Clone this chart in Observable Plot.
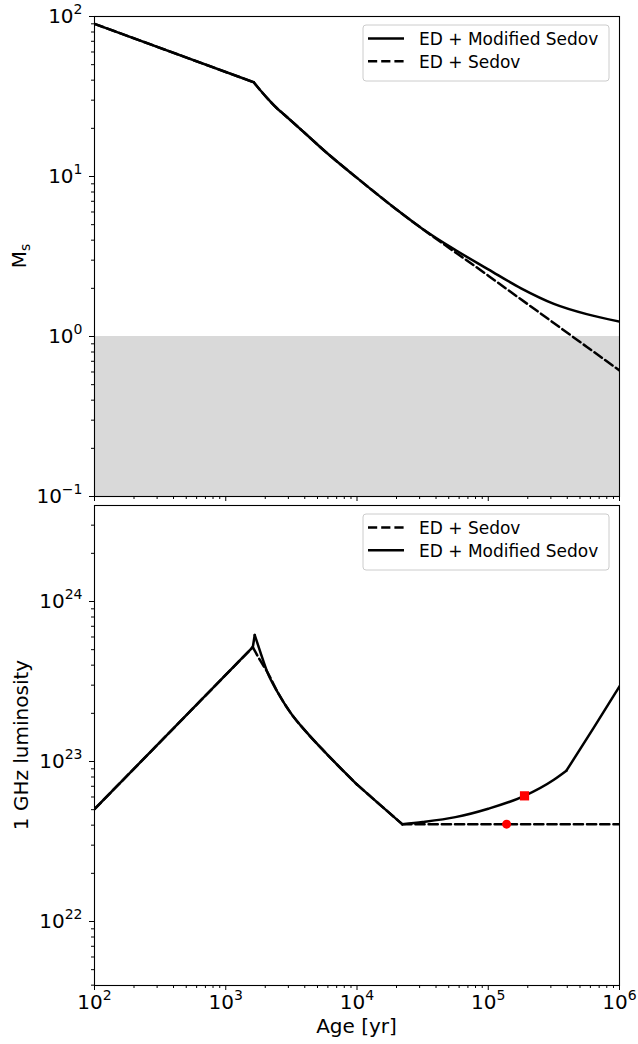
<!DOCTYPE html>
<html><head><meta charset="utf-8">
<script src="https://cdn.jsdelivr.net/npm/d3@7"></script>
<script src="https://cdn.jsdelivr.net/npm/@observablehq/plot@0.6"></script>
<style>
body{margin:0;background:#fff;font-family:"DejaVu Sans",sans-serif;}
#wrap{width:638px;height:1044px;overflow:hidden;}
#wrap svg{display:block;}
</style></head><body><div id="wrap"></div>
<script>
// ---------- data ----------
const xDomain = [1e2, 1e6];
const machDomain = [0.1, 100];
const lumDomain = [Math.pow(10, 21.6), Math.pow(10, 24.6)];
const subsonicRange = [0.1, 1];

// Mach number, ED + Modified Sedov
const machModAge = [100, 1636, 1862, 2138, 2455, 2767, 4000, 5585, 10000, 20000, 31620, 56230, 100000, 177800, 316200, 562300, 1000000];
const machModVal = [90, 38.8, 34.1, 30.0, 26.7, 24.5, 18.7, 14.6, 9.8, 6.22, 4.70, 3.47, 2.63, 2.0, 1.60, 1.38, 1.24];
// Mach number, ED + Sedov
const machSedAge = [100, 1636, 1862, 2138, 2455, 2767, 4000, 5585, 10000, 20000, 100000, 1000000];
const machSedVal = [90, 38.8, 34.1, 30.0, 26.7, 24.5, 18.7, 14.6, 9.8, 6.22, 2.40, 0.613];
const machKinks = [1636];

// 1 GHz luminosity, ED + Modified Sedov
const lumModAge = [100, 539, 1607, 1663, 1862, 2070, 2512, 3112, 4169, 5585, 10000, 15000, 22100, 31620, 56230, 100000, 189000, 316200, 394000, 637000, 1000000];
const lumModVal = [5.04e22, 2.07e23, 5.18e23, 6.17e23, 4.66e23, 3.63e23, 2.67e23, 2.02e23, 1.51e23, 1.165e23, 7.18e22, 5.36e22, 4.06e22, 4.19e22, 4.49e22, 5.07e22, 6.1e22, 7.69e22, 8.76e22, 1.63e23, 2.95e23];
const lumModKinks = [1607, 1663, 10000, 22100, 394000];
// 1 GHz luminosity, ED + Sedov
const lumSedAge = [100, 539, 1607, 1840, 2070, 2512, 3112, 4169, 5585, 10000, 15000, 22100, 1000000];
const lumSedVal = [5.04e22, 2.07e23, 5.18e23, 4.25e23, 3.63e23, 2.67e23, 2.02e23, 1.51e23, 1.165e23, 7.18e22, 5.36e22, 4.06e22, 4.06e22];
const lumSedKinks = [1607, 10000, 22100];

// marked points
const circleAge = [138000], circleVal = [4.06e22];
const squareAge = [189000], squareVal = [6.1e22];

// ticks
const xMajor = [1e2, 1e3, 1e4, 1e5, 1e6];
const machMajor = [0.1, 1, 10, 100];
const lumMajor = [1e22, 1e23, 1e24];

const legendTop = ["ED + Modified Sedov", "ED + Sedov"];
const legendBottom = ["ED + Sedov", "ED + Modified Sedov"];

// ---------- helpers ----------
// split a series at its kinks so each smooth piece is drawn with its own curve
function segments(ages, vals, kinks) {
  const rows = [];
  let seg = 0;
  ages.forEach((x, i) => {
    rows.push({x, y: vals[i], seg});
    if (kinks.includes(x) && i > 0 && i < ages.length - 1) { seg++; rows.push({x, y: vals[i], seg}); }
  });
  return rows;
}
const toRows = (a, v) => a.map((x, i) => ({x, y: v[i]}));
function minorTicks(dom) {
  const out = [];
  const lo = Math.floor(Math.log10(dom[0])), hi = Math.ceil(Math.log10(dom[1]));
  for (let e = lo; e < hi; e++) for (let k = 2; k <= 9; k++) {
    const v = k * Math.pow(10, e);
    if (v >= dom[0] * 0.999 && v <= dom[1] * 1.001) out.push(v);
  }
  return out;
}
const supChars = "⁻⁰¹²³⁴⁵⁶⁷⁸⁹", plainChars = "-0123456789";
const fmtPow = d => "10" + String(Math.round(Math.log10(d))).split("").map(c => supChars[plainChars.indexOf(c)]).join("");
const blank = () => "";
const LW = 2.5, DASH = "9.2,4";
const FONT = "DejaVu Sans";

// render superscript exponent like matplotlib mathtext
function styleExponents(svg) {
  d3.select(svg).selectAll("text").each(function() {
    const s = this.textContent;
    if (!/^10[⁻⁰¹²³⁴⁵⁶⁷⁸⁹]+$/.test(s)) return;
    const exp = s.slice(2).split("").map(c => plainChars[supChars.indexOf(c)]).join("");
    const sel = d3.select(this);
    sel.text("10");
    sel.append("tspan").attr("font-size", 14).attr("dy", -9).text(exp.replace("-", "\u2212"));
  });
}

function addLegend(svg, x, y, labels, styles) {
  const g = d3.select(svg).append("g").attr("text-anchor", "start");
  g.append("rect").attr("x", x).attr("y", y).attr("width", 246).attr("height", 56)
    .attr("rx", 3).attr("fill", "white").attr("fill-opacity", 0.8).attr("stroke", "#cccccc").attr("stroke-width", 1);
  labels.forEach((lab, i) => {
    const cy = y + 13.5 + i * 22.8;
    g.append("line").attr("x1", x + 5).attr("x2", x + 41).attr("y1", cy).attr("y2", cy)
      .attr("stroke", "black").attr("stroke-width", LW).attr("stroke-dasharray", styles[i]);
    g.append("text").attr("x", x + 56).attr("y", cy + 6.2).attr("font-size", 17)
      .attr("text-anchor", "start").attr("font-family", FONT).attr("fill", "black").text(lab);
  });
}

// ---------- top panel ----------
const topSvg = Plot.plot({
  width: 638, height: 501,
  marginLeft: 94, marginRight: 19, marginTop: 16, marginBottom: 5,
  style: {fontFamily: FONT, background: "white", overflow: "visible"},
  x: {type: "log", domain: xDomain},
  y: {type: "log", domain: machDomain},
  marks: [
    Plot.rect([{x1: xDomain[0], x2: xDomain[1], y1: subsonicRange[0], y2: subsonicRange[1]}],
      {x1: "x1", x2: "x2", y1: "y1", y2: "y2", fill: "#d9d9d9"}),
    Plot.line(segments(machModAge, machModVal, machKinks), {x: "x", y: "y", z: "seg", curve: "monotone-x", stroke: "black", strokeWidth: LW, clip: true}),
    Plot.line(segments(machSedAge, machSedVal, machKinks), {x: "x", y: "y", z: "seg", curve: "monotone-x", stroke: "black", strokeWidth: LW, strokeDasharray: DASH, clip: true}),
    Plot.axisY({ticks: machMajor, tickSize: 5, tickPadding: 7, tickFormat: fmtPow, fontSize: 20, label: null}),
    Plot.axisY({ticks: minorTicks(machDomain), tickSize: 3, tickFormat: blank, label: null}),
    Plot.axisX({ticks: xMajor, tickSize: 5, tickFormat: blank, label: null}),
    Plot.axisX({ticks: minorTicks(xDomain), tickSize: 3, tickFormat: blank, label: null}),
    Plot.frame({stroke: "black", strokeWidth: 1.1})
  ]
});
styleExponents(topSvg);
{
  const t = d3.select(topSvg).append("text")
    .attr("transform", "translate(26,256) rotate(-90)")
    .attr("text-anchor", "middle").attr("font-size", 20).attr("font-family", FONT).attr("fill", "black");
  t.append("tspan").text("M");
  t.append("tspan").attr("font-size", 14).attr("dy", 4).text("s");
}
addLegend(topSvg, 363, 25, legendTop, ["none", DASH]);

// ---------- bottom panel ----------
const bottomSvg = Plot.plot({
  width: 638, height: 543,
  marginLeft: 94, marginRight: 19, marginTop: 4, marginBottom: 59,
  style: {fontFamily: FONT, background: "white", overflow: "visible"},
  x: {type: "log", domain: xDomain},
  y: {type: "log", domain: lumDomain},
  marks: [
    Plot.line(segments(lumSedAge, lumSedVal, lumSedKinks), {x: "x", y: "y", z: "seg", curve: "monotone-x", stroke: "black", strokeWidth: LW, strokeDasharray: DASH, clip: true}),
    Plot.line(segments(lumModAge, lumModVal, lumModKinks), {x: "x", y: "y", z: "seg", curve: "monotone-x", stroke: "black", strokeWidth: LW, clip: true}),
    Plot.dot(toRows(circleAge, circleVal), {x: "x", y: "y", r: 4.5, fill: "red", stroke: "none"}),
    Plot.dot(toRows(squareAge, squareVal), {x: "x", y: "y", r: 5.2, symbol: "square", fill: "red", stroke: "none"}),
    Plot.axisY({ticks: lumMajor, tickSize: 5, tickPadding: 7, tickFormat: fmtPow, fontSize: 20, label: null}),
    Plot.axisY({ticks: minorTicks(lumDomain), tickSize: 3, tickFormat: blank, label: null}),
    Plot.axisX({ticks: xMajor, tickSize: 5, tickPadding: 4, tickFormat: fmtPow, fontSize: 20, label: null}),
    Plot.axisX({ticks: minorTicks(xDomain), tickSize: 3, tickFormat: blank, label: null}),
    Plot.frame({stroke: "black", strokeWidth: 1.1})
  ]
});
styleExponents(bottomSvg);
d3.select(bottomSvg).append("text")
  .attr("transform", "translate(28,244) rotate(-90)")
  .attr("text-anchor", "middle").attr("font-size", 20).attr("font-family", FONT).attr("fill", "black")
  .text("1 GHz luminosity");
d3.select(bottomSvg).append("text")
  .attr("x", 356.5).attr("y", 532)
  .attr("text-anchor", "middle").attr("font-size", 20).attr("font-family", FONT).attr("fill", "black")
  .text("Age [yr]");
addLegend(bottomSvg, 363, 13, legendBottom, [DASH, "none"]);

const wrap = document.getElementById("wrap");
wrap.appendChild(topSvg);
wrap.appendChild(bottomSvg);
</script>
</body></html>
